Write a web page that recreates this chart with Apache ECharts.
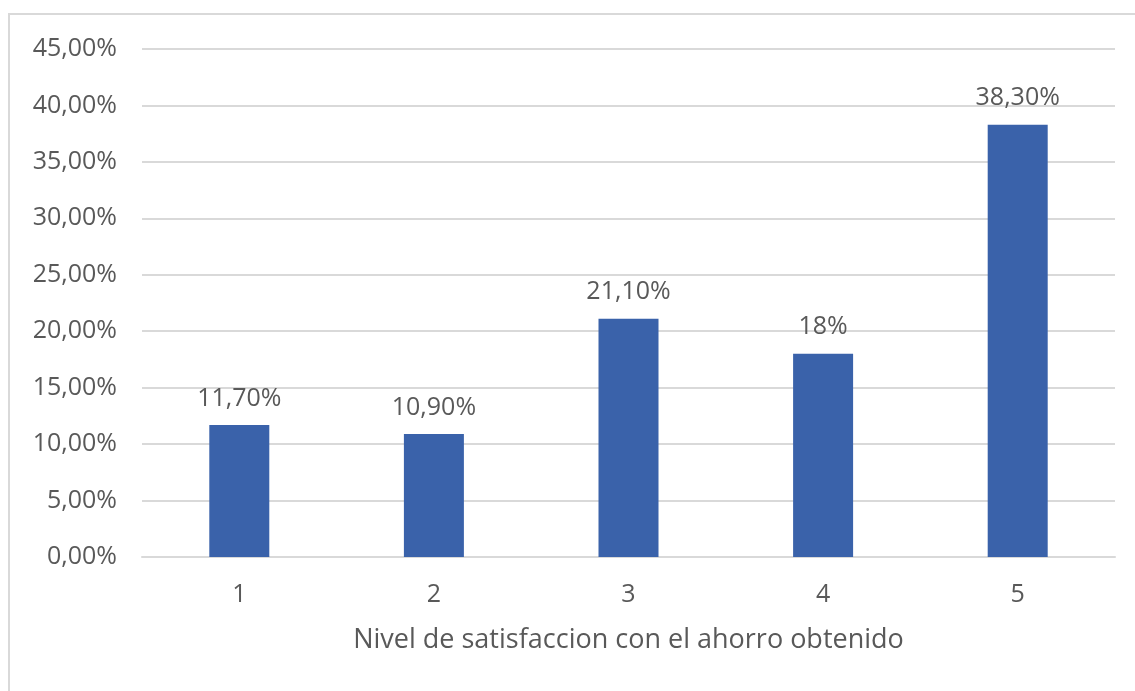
<!DOCTYPE html>
<html>
<head>
<meta charset="utf-8">
<script src="https://cdn.jsdelivr.net/npm/echarts@6/dist/echarts.min.js"></script>
<style>
  html, body { margin: 0; padding: 0; background: #fff; }
  #chart { width: 1135px; height: 691px; }
</style>
</head>
<body>
<div id="chart"></div>
<script>
// Satisfaction levels and share of respondents (%)
const categories = ['1', '2', '3', '4', '5'];
const values = [11.7, 10.9, 21.1, 18, 38.3];
const valueLabels = ['11,70%', '10,90%', '21,10%', '18%', '38,30%'];
const axisTitle = 'Nivel de satisfaccion con el ahorro obtenido';

const FONT = '"Open Sans", "Noto Sans", sans-serif';
const chart = echarts.init(document.getElementById('chart'), null, { renderer: 'canvas' });

chart.setOption({
  animation: false,
  backgroundColor: '#ffffff',
  graphic: [{
    type: 'rect',
    shape: { x: 9, y: 14, width: 1300, height: 900 },
    style: { fill: 'none', stroke: '#d9d9d9', lineWidth: 2 },
    silent: true
  }],
  grid: { left: 142, right: 20, top: 49, bottom: 134 },
  xAxis: {
    type: 'category',
    data: categories,
    name: axisTitle,
    nameLocation: 'middle',
    nameGap: 70,
    nameTextStyle: { color: '#595959', fontSize: 27, fontFamily: FONT },
    axisLine: { show: true, lineStyle: { color: '#d9d9d9', width: 2 } },
    axisTick: { show: false },
    axisLabel: { color: '#595959', fontSize: 25, fontFamily: FONT, margin: 25 }
  },
  yAxis: {
    type: 'value',
    min: 0,
    max: 45,
    interval: 5,
    axisLine: { show: false },
    axisTick: { show: false },
    splitLine: { lineStyle: { color: '#d9d9d9', width: 2 } },
    axisLabel: {
      color: '#595959', fontSize: 25, fontFamily: FONT, margin: 25,
      formatter: v => v.toFixed(2).replace('.', ',') + '%'
    }
  },
  series: [{
    type: 'bar',
    data: values,
    barWidth: 60,
    itemStyle: { color: '#3a62aa' },
    label: {
      show: true,
      position: 'top',
      distance: 14,
      color: '#595959',
      fontSize: 25,
      fontFamily: FONT,
      formatter: p => valueLabels[p.dataIndex]
    }
  }]
});
</script>
</body>
</html>
